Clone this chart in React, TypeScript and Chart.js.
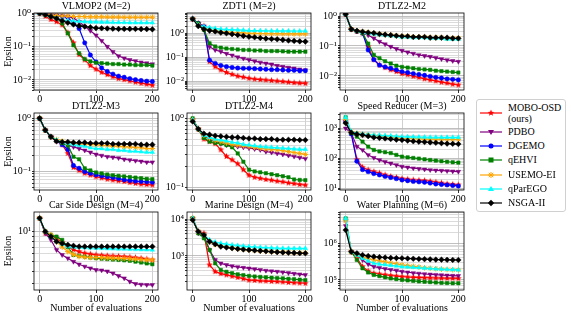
import React, { useEffect, useRef } from 'react';
import { Chart, registerables } from 'chart.js';
Chart.register(...registerables);

const FONT = "'Liberation Serif', 'Times New Roman', 'DejaVu Serif', serif";

const EVALS = [0, 10, 20, 30, 40, 50, 60, 70, 80, 90, 100, 110, 120, 130, 140, 150, 160, 170, 180, 190, 200];
const X_TICKS = [0, 100, 200];

const METHODS = ['MOBO-OSD (ours)', 'PDBO', 'DGEMO', 'qEHVI', 'USEMO-EI', 'qParEGO', 'NSGA-II'];
const COLORS = ['#ff0000', '#800080', '#0000ff', '#008000', '#ffa500', '#00ffff', '#000000'];

// VLMOP2 (M=2)
const V_MOBO = [1.0, 0.82, 0.65, 0.56, 0.45, 0.26, 0.13, 0.058, 0.04, 0.027, 0.021, 0.017, 0.0145, 0.0125, 0.011, 0.0102, 0.0094, 0.0086, 0.008, 0.0075, 0.007];
const V_PDBO = [1.0, 0.95, 0.9, 0.86, 0.83, 0.8, 0.72, 0.56, 0.4, 0.3, 0.22, 0.15, 0.1, 0.07, 0.052, 0.045, 0.04, 0.037, 0.034, 0.032, 0.03];
const V_DGEMO = [1.0, 0.92, 0.86, 0.83, 0.8, 0.76, 0.5, 0.35, 0.13, 0.056, 0.035, 0.023, 0.018, 0.015, 0.013, 0.012, 0.011, 0.0102, 0.0096, 0.0092, 0.009];
const V_QEHVI = [1.0, 0.9, 0.8, 0.74, 0.5, 0.25, 0.11, 0.063, 0.042, 0.036, 0.033, 0.032, 0.031, 0.03, 0.03, 0.029, 0.029, 0.028, 0.028, 0.028, 0.027];
const V_USEMO = [1.0, 0.92, 0.88, 0.85, 0.83, 0.82, 0.8, 0.8, 0.79, 0.78, 0.78, 0.78, 0.77, 0.77, 0.77, 0.76, 0.76, 0.76, 0.76, 0.76, 0.76];
const V_PAREGO = [1.0, 0.9, 0.8, 0.7, 0.63, 0.6, 0.58, 0.57, 0.56, 0.55, 0.55, 0.54, 0.54, 0.53, 0.53, 0.53, 0.52, 0.52, 0.52, 0.52, 0.52];
const V_NSGA = [1.0, 0.9, 0.8, 0.7, 0.6, 0.52, 0.46, 0.42, 0.4, 0.38, 0.36, 0.355, 0.35, 0.345, 0.34, 0.34, 0.34, 0.34, 0.335, 0.335, 0.33];

// ZDT1 (M=2)
const Z_MOBO = [4.0, 2.6, 2.0, 0.065, 0.04, 0.029, 0.023, 0.019, 0.016, 0.0145, 0.013, 0.012, 0.0115, 0.011, 0.0105, 0.01, 0.0095, 0.009, 0.0085, 0.0082, 0.008];
const Z_PDBO = [4.0, 2.6, 1.4, 0.27, 0.2, 0.17, 0.14, 0.12, 0.1, 0.088, 0.077, 0.068, 0.06, 0.055, 0.05, 0.044, 0.04, 0.037, 0.034, 0.031, 0.029];
const Z_DGEMO = [4.0, 2.6, 1.9, 0.075, 0.055, 0.045, 0.04, 0.037, 0.035, 0.034, 0.034, 0.033, 0.032, 0.031, 0.03, 0.03, 0.029, 0.028, 0.028, 0.027, 0.027];
const Z_QEHVI = [4.0, 2.6, 1.4, 0.38, 0.28, 0.25, 0.23, 0.22, 0.21, 0.2, 0.2, 0.19, 0.19, 0.18, 0.18, 0.18, 0.175, 0.17, 0.17, 0.17, 0.17];
const Z_USEMO = [4.0, 2.2, 1.6, 1.4, 1.3, 1.2, 1.15, 1.1, 1.07, 1.04, 1.0, 0.99, 0.98, 0.97, 0.96, 0.96, 0.95, 0.95, 0.94, 0.94, 0.94];
const Z_PAREGO = [4.0, 2.2, 1.9, 1.75, 1.6, 1.5, 1.45, 1.42, 1.38, 1.35, 1.3, 1.3, 1.29, 1.28, 1.27, 1.27, 1.26, 1.26, 1.25, 1.25, 1.25];
const Z_NSGA = [4.0, 2.0, 1.5, 1.3, 1.2, 1.07, 1.0, 0.92, 0.85, 0.78, 0.72, 0.68, 0.64, 0.6, 0.58, 0.56, 0.53, 0.5, 0.48, 0.46, 0.45];

// DTLZ2-M2
const D2_MOBO = [1.15, 0.36, 0.31, 0.27, 0.095, 0.035, 0.023, 0.019, 0.016, 0.014, 0.012, 0.011, 0.0098, 0.009, 0.008, 0.0074, 0.0068, 0.0062, 0.0058, 0.0053, 0.005];
const D2_PDBO = [1.15, 0.36, 0.31, 0.27, 0.23, 0.18, 0.14, 0.115, 0.095, 0.08, 0.07, 0.062, 0.056, 0.05, 0.047, 0.044, 0.04, 0.037, 0.034, 0.032, 0.03];
const D2_DGEMO = [1.15, 0.36, 0.31, 0.27, 0.074, 0.035, 0.023, 0.02, 0.018, 0.016, 0.014, 0.013, 0.012, 0.0112, 0.0105, 0.0097, 0.009, 0.0085, 0.008, 0.0077, 0.0074];
const D2_QEHVI = [1.15, 0.36, 0.31, 0.27, 0.12, 0.05, 0.039, 0.031, 0.026, 0.022, 0.02, 0.019, 0.018, 0.017, 0.0165, 0.016, 0.015, 0.0145, 0.014, 0.0135, 0.013];
const D2_USEMO = [1.15, 0.36, 0.32, 0.3, 0.28, 0.26, 0.25, 0.24, 0.23, 0.22, 0.21, 0.21, 0.2, 0.2, 0.2, 0.19, 0.19, 0.19, 0.18, 0.18, 0.18];
const D2_PAREGO = [1.15, 0.36, 0.32, 0.29, 0.27, 0.25, 0.24, 0.23, 0.22, 0.21, 0.2, 0.2, 0.19, 0.19, 0.19, 0.18, 0.18, 0.18, 0.17, 0.17, 0.17];
const D2_NSGA = [1.15, 0.36, 0.32, 0.3, 0.28, 0.27, 0.25, 0.24, 0.23, 0.22, 0.21, 0.21, 0.2, 0.2, 0.2, 0.19, 0.19, 0.19, 0.19, 0.18, 0.18];

// DTLZ2-M3
const D3_MOBO = [1.0, 0.6, 0.45, 0.38, 0.32, 0.22, 0.12, 0.105, 0.093, 0.086, 0.08, 0.076, 0.072, 0.069, 0.067, 0.065, 0.062, 0.06, 0.058, 0.057, 0.056];
const D3_PDBO = [1.0, 0.6, 0.45, 0.38, 0.34, 0.31, 0.29, 0.27, 0.25, 0.23, 0.21, 0.2, 0.19, 0.185, 0.18, 0.17, 0.165, 0.16, 0.155, 0.15, 0.15];
const D3_DGEMO = [1.0, 0.6, 0.45, 0.38, 0.32, 0.26, 0.13, 0.115, 0.1, 0.093, 0.087, 0.083, 0.08, 0.077, 0.074, 0.07, 0.068, 0.066, 0.065, 0.064, 0.063];
const D3_QEHVI = [1.0, 0.6, 0.45, 0.38, 0.34, 0.31, 0.19, 0.17, 0.115, 0.105, 0.096, 0.092, 0.088, 0.085, 0.083, 0.081, 0.079, 0.077, 0.075, 0.073, 0.072];
const D3_USEMO = [1.0, 0.6, 0.45, 0.4, 0.37, 0.35, 0.34, 0.33, 0.33, 0.32, 0.32, 0.31, 0.31, 0.3, 0.3, 0.29, 0.29, 0.28, 0.28, 0.27, 0.27];
const D3_PAREGO = [1.0, 0.6, 0.45, 0.39, 0.36, 0.34, 0.32, 0.31, 0.3, 0.28, 0.27, 0.27, 0.26, 0.26, 0.25, 0.25, 0.24, 0.24, 0.235, 0.23, 0.23];
const D3_NSGA = [1.0, 0.6, 0.45, 0.37, 0.36, 0.36, 0.35, 0.35, 0.35, 0.34, 0.34, 0.34, 0.34, 0.33, 0.33, 0.33, 0.33, 0.33, 0.32, 0.32, 0.32];

// DTLZ2-M4 (no DGEMO)
const D4_MOBO = [0.95, 0.7, 0.5, 0.46, 0.43, 0.35, 0.28, 0.25, 0.22, 0.18, 0.15, 0.14, 0.135, 0.13, 0.127, 0.123, 0.12, 0.116, 0.113, 0.11, 0.108];
const D4_PDBO = [0.95, 0.7, 0.56, 0.5, 0.46, 0.43, 0.41, 0.4, 0.39, 0.38, 0.37, 0.36, 0.35, 0.33, 0.32, 0.31, 0.3, 0.29, 0.28, 0.27, 0.26];
const D4_QEHVI = [1.0, 0.7, 0.52, 0.46, 0.44, 0.43, 0.41, 0.38, 0.31, 0.235, 0.18, 0.17, 0.165, 0.16, 0.155, 0.15, 0.145, 0.14, 0.13, 0.128, 0.127];
const D4_USEMO = [0.95, 0.7, 0.57, 0.52, 0.48, 0.46, 0.44, 0.42, 0.41, 0.4, 0.39, 0.38, 0.37, 0.36, 0.355, 0.35, 0.34, 0.33, 0.32, 0.31, 0.3];
const D4_PAREGO = [0.95, 0.7, 0.57, 0.53, 0.5, 0.485, 0.47, 0.45, 0.44, 0.42, 0.41, 0.4, 0.39, 0.385, 0.38, 0.375, 0.37, 0.365, 0.36, 0.355, 0.355];
const D4_NSGA = [0.9, 0.7, 0.6, 0.58, 0.56, 0.55, 0.54, 0.53, 0.53, 0.52, 0.51, 0.51, 0.5, 0.5, 0.5, 0.49, 0.49, 0.49, 0.49, 0.485, 0.485];

// Speed Reducer (M=3)
const S_MOBO = [1670, 700, 90, 50, 41, 36, 32, 28, 25, 23, 21, 20, 19, 18.5, 18, 17, 16, 15, 14, 13.5, 13];
const S_PDBO = [1000, 700, 245, 190, 130, 105, 88, 76, 68, 60, 53, 50, 47, 45, 43, 41, 40, 39, 38, 37, 36];
const S_DGEMO = [1670, 650, 80, 42, 36, 31, 28, 25, 23, 21, 19, 18, 17, 16.5, 16, 15, 14, 13.5, 13, 12.5, 12];
const S_QEHVI = [2330, 700, 530, 360, 245, 190, 170, 160, 150, 130, 114, 108, 103, 98, 93, 88, 84, 80, 77, 74, 72];
const S_USEMO = [2000, 775, 680, 630, 600, 570, 550, 530, 510, 490, 460, 455, 450, 445, 440, 440, 435, 435, 430, 430, 430];
const S_PAREGO = [2330, 775, 680, 640, 620, 600, 590, 575, 560, 545, 530, 525, 520, 515, 510, 505, 505, 500, 500, 500, 500];
const S_NSGA = [1500, 720, 640, 600, 550, 500, 480, 460, 440, 420, 410, 390, 370, 360, 350, 340, 330, 320, 310, 305, 300];

// Car Side Design (M=4)
const C_MOBO = [13.6, 9.6, 9.0, 8.6, 7.8, 7.08, 6.6, 6.3, 6.07, 5.95, 5.84, 5.78, 5.72, 5.68, 5.65, 5.62, 5.55, 5.48, 5.4, 5.3, 5.2];
const C_PDBO = [13.6, 9.6, 8.25, 6.55, 5.84, 5.41, 5.0, 4.7, 4.47, 4.3, 4.14, 4.1, 4.0, 3.83, 3.6, 3.41, 3.16, 3.0, 2.95, 2.93, 2.93];
const C_QEHVI = [13.6, 10, 9.3, 8.9, 8.25, 7.0, 5.84, 5.7, 5.6, 5.5, 5.41, 5.35, 5.3, 5.25, 5.2, 5.15, 5.1, 5.0, 4.9, 4.8, 4.71];
const C_USEMO = [13.6, 10, 9.26, 7.94, 7.0, 6.3, 5.9, 5.62, 5.55, 5.5, 5.5, 5.48, 5.45, 5.42, 5.4, 5.38, 5.35, 5.3, 5.25, 5.2, 5.2];
const C_PAREGO = [13.6, 10, 8.9, 7.94, 7.5, 7.08, 7.0, 6.95, 6.9, 6.85, 6.81, 6.78, 6.75, 6.72, 6.7, 6.68, 6.65, 6.62, 6.6, 6.57, 6.55];
const C_NSGA = [13.6, 10, 8.9, 7.94, 7.6, 7.36, 7.2, 7.08, 7.08, 7.08, 7.08, 7.08, 7.08, 7.08, 7.08, 7.08, 7.08, 7.08, 7.08, 7.08, 7.08];

// Marine Design (M=4)
const M_MOBO = [10650, 4610, 4150, 570, 375, 330, 305, 280, 260, 240, 220, 215, 210, 207, 203, 200, 195, 190, 186, 183, 180];
const M_PDBO = [10650, 4150, 3740, 1460, 780, 630, 570, 530, 500, 480, 460, 440, 420, 400, 385, 375, 360, 345, 330, 318, 305];
const M_QEHVI = [10650, 4150, 3030, 1460, 630, 415, 370, 340, 315, 300, 285, 275, 268, 262, 255, 250, 245, 238, 232, 226, 220];
const M_USEMO = [10650, 4610, 3740, 2460, 2050, 1880, 1760, 1660, 1580, 1520, 1460, 1420, 1380, 1350, 1320, 1290, 1270, 1250, 1240, 1230, 1230];
const M_PAREGO = [10650, 4610, 3740, 2730, 2400, 2220, 2100, 2000, 1930, 1860, 1800, 1760, 1720, 1690, 1660, 1640, 1620, 1610, 1600, 1600, 1600];
const M_NSGA = [9590, 4610, 3740, 2460, 2100, 1800, 1700, 1620, 1560, 1500, 1460, 1420, 1380, 1340, 1300, 1270, 1250, 1230, 1210, 1190, 1180];

// Water Planning (M=6)
const W_MOBO = [4.33e6, 5.9e5, 3.9e5, 2.31e5, 1.75e5, 1.52e5, 1.45e5, 1.38e5, 1.32e5, 1.27e5, 1.23e5, 1.2e5, 1.18e5, 1.16e5, 1.15e5, 1.14e5, 1.13e5, 1.12e5, 1.11e5, 1.11e5, 1.1e5];
const W_PDBO = [3.0e6, 5.9e5, 4.81e5, 3.5e5, 2.7e5, 2.31e5, 2.15e5, 2.0e5, 1.9e5, 1.8e5, 1.69e5, 1.62e5, 1.55e5, 1.5e5, 1.45e5, 1.42e5, 1.39e5, 1.36e5, 1.33e5, 1.31e5, 1.29e5];
const W_QEHVI = [4.8e6, 5.9e5, 3.51e5, 2.08e5, 1.6e5, 1.37e5, 1.27e5, 1.18e5, 1.1e5, 1.05e5, 1.0e5, 9.7e4, 9.4e4, 9.1e4, 8.9e4, 8.7e4, 8.5e4, 8.3e4, 8.2e4, 8.1e4, 8.1e4];
const W_USEMO = [4.3e6, 5.9e5, 4.81e5, 4.2e5, 3.8e5, 3.51e5, 3.3e5, 3.1e5, 2.9e5, 2.75e5, 2.57e5, 2.45e5, 2.35e5, 2.25e5, 2.15e5, 2.08e5, 2.02e5, 1.97e5, 1.93e5, 1.9e5, 1.88e5];
const W_PAREGO = [4.8e6, 5.9e5, 4.81e5, 3.9e5, 3.3e5, 2.85e5, 2.7e5, 2.6e5, 2.5e5, 2.4e5, 2.31e5, 2.25e5, 2.2e5, 2.15e5, 2.1e5, 2.05e5, 2.0e5, 1.97e5, 1.93e5, 1.9e5, 1.88e5];
const W_NSGA = [2.31e6, 5.9e5, 5.34e5, 4.8e5, 4.5e5, 4.33e5, 4.2e5, 4.1e5, 4.0e5, 3.95e5, 3.9e5, 3.85e5, 3.8e5, 3.75e5, 3.7e5, 3.65e5, 3.6e5, 3.58e5, 3.55e5, 3.52e5, 3.51e5];

// Panel titles and y-axis ranges
const TITLES = ['VLMOP2 (M=2)', 'ZDT1 (M=2)', 'DTLZ2-M2', 'DTLZ2-M3', 'DTLZ2-M4', 'Speed Reducer (M=3)', 'Car Side Design (M=4)', 'Marine Design (M=4)', 'Water Planning (M=6)'];
const Y_MIN = [0.005, 0.0042, 0.0034, 0.045, 0.0915, 8.8, 2.6, 118, 53000];
const Y_MAX = [1.02, 7.1, 1.26, 1.26, 1.195, 3250, 15.7, 15800, 7.2e6];

const PANEL_SERIES = [
  [V_MOBO, V_PDBO, V_DGEMO, V_QEHVI, V_USEMO, V_PAREGO, V_NSGA],
  [Z_MOBO, Z_PDBO, Z_DGEMO, Z_QEHVI, Z_USEMO, Z_PAREGO, Z_NSGA],
  [D2_MOBO, D2_PDBO, D2_DGEMO, D2_QEHVI, D2_USEMO, D2_PAREGO, D2_NSGA],
  [D3_MOBO, D3_PDBO, D3_DGEMO, D3_QEHVI, D3_USEMO, D3_PAREGO, D3_NSGA],
  [D4_MOBO, D4_PDBO, null, D4_QEHVI, D4_USEMO, D4_PAREGO, D4_NSGA],
  [S_MOBO, S_PDBO, S_DGEMO, S_QEHVI, S_USEMO, S_PAREGO, S_NSGA],
  [C_MOBO, C_PDBO, null, C_QEHVI, C_USEMO, C_PAREGO, C_NSGA],
  [M_MOBO, M_PDBO, null, M_QEHVI, M_USEMO, M_PAREGO, M_NSGA],
  [W_MOBO, W_PDBO, null, W_QEHVI, W_USEMO, W_PAREGO, W_NSGA],
];

// layout
const COL_LEFT = [34, 187, 340];
const ROW_TOP = [13, 113, 212];
const PLOT_W = 124;
const PLOT_H = [77, 77, 78];
const YW = 34;
const TH = 13;
const RP = 12;

const SUP: Record<string, string> = { '0': '⁰', '1': '¹', '2': '²', '3': '³', '4': '⁴', '5': '⁵', '6': '⁶', '7': '⁷', '8': '⁸', '9': '⁹', '-': '⁻' };
function isDecade(v: number) {
  const l = Math.log10(v);
  return Math.abs(l - Math.round(l)) < 1e-6;
}
function decadeLabel(v: number) {
  const e = Math.round(Math.log10(v));
  return '10' + String(e).split('').map((c) => SUP[c] || c).join('');
}

function makeStar(color: string, r: number) {
  const size = Math.ceil(r * 2 + 2);
  const c = document.createElement('canvas');
  c.width = size;
  c.height = size;
  const g = c.getContext('2d')!;
  g.fillStyle = color;
  g.beginPath();
  for (let i = 0; i < 10; i++) {
    const ang = -Math.PI / 2 + (i * Math.PI) / 5;
    const rr = i % 2 === 0 ? r : r * 0.45;
    const px = size / 2 + rr * Math.cos(ang);
    const py = size / 2 + rr * Math.sin(ang);
    if (i === 0) g.moveTo(px, py);
    else g.lineTo(px, py);
  }
  g.closePath();
  g.fill();
  return c;
}

const framePlugin = {
  id: 'frame',
  afterDatasetsDraw(chart: any) {
    const { ctx, chartArea: a } = chart;
    ctx.save();
    ctx.strokeStyle = '#000';
    ctx.lineWidth = 0.8;
    ctx.strokeRect(a.left, a.top, a.right - a.left, a.bottom - a.top);
    ctx.restore();
  },
};

function pointCfg(i: number, star: any) {
  switch (i) {
    case 0: return { pointStyle: star, pointRadius: 3, pointRotation: 0 };
    case 1: return { pointStyle: 'triangle', pointRadius: 2.6, pointRotation: 180 };
    case 2: return { pointStyle: 'circle', pointRadius: 2.2, pointRotation: 0 };
    case 3: return { pointStyle: 'rect', pointRadius: 2.4, pointRotation: 0 };
    case 4: return { pointStyle: 'star', pointRadius: 2.8, pointRotation: 0 };
    case 5: return { pointStyle: 'triangle', pointRadius: 2.6, pointRotation: 0 };
    default: return { pointStyle: 'rectRot', pointRadius: 2.8, pointRotation: 0 };
  }
}

function Panel({ idx }: { idx: number }) {
  const ref = useRef<HTMLCanvasElement>(null);
  const row = Math.floor(idx / 3);
  const col = idx % 3;
  const XH = row === 2 ? 24 : 12;
  const W = YW + PLOT_W + RP;
  const H = TH + PLOT_H[row] + XH;
  const left = COL_LEFT[col] - YW;
  const top = ROW_TOP[row] - TH;

  useEffect(() => {
    const star = makeStar(COLORS[0], 3.4);
    const yMin = Y_MIN[idx];
    const yMax = Y_MAX[idx];
    const datasets: any[] = [];
    PANEL_SERIES[idx].forEach((arr, i) => {
      if (!arr) return;
      datasets.push({
        label: METHODS[i],
        data: EVALS.map((x, k) => ({ x, y: arr[k] })),
        borderColor: COLORS[i],
        backgroundColor: COLORS[i],
        pointBackgroundColor: COLORS[i],
        pointBorderColor: COLORS[i],
        pointBorderWidth: i === 4 ? 1 : 0.5,
        borderWidth: 1.2,
        tension: 0,
        order: 7 - i,
        ...pointCfg(i, star),
      });
    });
    const chart = new Chart(ref.current!, {
      type: 'line',
      data: { datasets },
      options: {
        animation: false,
        responsive: false,
        maintainAspectRatio: false,
        devicePixelRatio: 1,
        layout: { padding: { left: 0, right: RP, top: 0, bottom: 0 } },
        plugins: {
          legend: { display: false },
          tooltip: { enabled: false },
          title: {
            display: true,
            text: TITLES[idx],
            fullSize: false,
            color: '#000',
            font: { family: FONT, size: 10, weight: 'normal' },
            padding: { top: 0, bottom: 1 },
          },
        },
        scales: {
          x: {
            type: 'linear',
            min: -10,
            max: 210,
            afterBuildTicks: (s: any) => {
              s.ticks = X_TICKS.map((v) => ({ value: v }));
            },
            afterFit: (s: any) => {
              s.height = XH;
            },
            ticks: { color: '#000', font: { family: FONT, size: 10 }, padding: 0, maxRotation: 0, autoSkip: false },
            grid: { color: '#c4c4c4', lineWidth: 0.8, drawTicks: true, tickLength: 3, tickColor: '#000' },
            border: { display: false },
            title: {
              display: row === 2,
              text: 'Number of evaluations',
              color: '#000',
              font: { family: FONT, size: 10 },
              padding: { top: 0, bottom: 0 },
            },
          },
          y: {
            type: 'logarithmic',
            min: yMin,
            max: yMax,
            afterBuildTicks: (s: any) => {
              const t: any[] = [];
              const lo = Math.floor(Math.log10(yMin));
              const hi = Math.ceil(Math.log10(yMax));
              for (let e = lo; e <= hi; e++) {
                for (let m = 1; m <= 9; m++) {
                  const v = m * Math.pow(10, e);
                  if (v >= yMin && v <= yMax) t.push({ value: v });
                }
              }
              s.ticks = t;
            },
            afterFit: (s: any) => {
              s.width = YW;
            },
            ticks: {
              color: '#000',
              font: { family: FONT, size: 10 },
              padding: 1,
              autoSkip: false,
              callback: (v: any) => (isDecade(Number(v)) ? decadeLabel(Number(v)) : ''),
            },
            grid: {
              color: (ctx: any) => (ctx.tick && isDecade(ctx.tick.value) ? '#b0b0b0' : '#d2d2d2'),
              lineWidth: 0.8,
              drawTicks: true,
              tickLength: 2,
              tickColor: '#000',
            },
            border: { display: false },
            title: {
              display: col === 0,
              text: 'Epsilon',
              color: '#000',
              font: { family: FONT, size: 10 },
              padding: { top: 2, bottom: 0 },
            },
          },
        },
      },
      plugins: [framePlugin],
    } as any);
    return () => chart.destroy();
  }, []);

  return (
    <canvas
      ref={ref}
      width={W}
      height={H}
      style={{ position: 'absolute', left, top, width: W, height: H }}
    />
  );
}

function LegendMarker({ i }: { i: number }) {
  const c = COLORS[i];
  const cx = 11;
  const cy = 5;
  let marker: any = null;
  if (i === 0) {
    const pts: string[] = [];
    for (let k = 0; k < 10; k++) {
      const ang = -Math.PI / 2 + (k * Math.PI) / 5;
      const rr = k % 2 === 0 ? 3.4 : 1.5;
      pts.push(`${cx + rr * Math.cos(ang)},${cy + rr * Math.sin(ang)}`);
    }
    marker = <polygon points={pts.join(' ')} fill={c} />;
  } else if (i === 1) {
    marker = <polygon points={`${cx - 3},${cy - 2} ${cx + 3},${cy - 2} ${cx},${cy + 3}`} fill={c} />;
  } else if (i === 2) {
    marker = <circle cx={cx} cy={cy} r={2.5} fill={c} />;
  } else if (i === 3) {
    marker = <rect x={cx - 2.5} y={cy - 2.5} width={5} height={5} fill={c} />;
  } else if (i === 4) {
    marker = (
      <g stroke={c} strokeWidth={1}>
        <line x1={cx - 3} y1={cy} x2={cx + 3} y2={cy} />
        <line x1={cx} y1={cy - 3} x2={cx} y2={cy + 3} />
        <line x1={cx - 2.2} y1={cy - 2.2} x2={cx + 2.2} y2={cy + 2.2} />
        <line x1={cx - 2.2} y1={cy + 2.2} x2={cx + 2.2} y2={cy - 2.2} />
      </g>
    );
  } else if (i === 5) {
    marker = <polygon points={`${cx - 3},${cy + 2} ${cx + 3},${cy + 2} ${cx},${cy - 3}`} fill={c} />;
  } else {
    marker = <polygon points={`${cx},${cy - 3.2} ${cx + 3.2},${cy} ${cx},${cy + 3.2} ${cx - 3.2},${cy}`} fill={c} />;
  }
  return (
    <svg width={22} height={10} style={{ position: 'absolute', left: 3, top: -5 }}>
      <line x1={0} y1={cy} x2={22} y2={cy} stroke={c} strokeWidth={1.2} />
      {marker}
    </svg>
  );
}

const LEGEND_CY = [113, 131.7, 146, 160.3, 174.6, 189, 203.3];

function Legend() {
  const boxTop = 99;
  return (
    <div
      style={{
        position: 'absolute',
        left: 476,
        top: boxTop,
        width: 90,
        height: 113,
        border: '1px solid #d0d0d0',
        borderRadius: 3,
        boxSizing: 'border-box',
        background: '#fff',
        fontFamily: FONT,
        fontSize: 10,
        color: '#000',
      }}
    >
      {METHODS.map((m, i) => {
        const cy = LEGEND_CY[i] - boxTop - 1;
        const lines = i === 0 ? ['MOBO-OSD', '(ours)'] : [m];
        return (
          <div key={m} style={{ position: 'absolute', left: 0, top: cy, width: 88, height: 0 }}>
            <LegendMarker i={i} />
            <div
              style={{
                position: 'absolute',
                left: 31,
                top: i === 0 ? -11.5 : -6,
                lineHeight: i === 0 ? '11.5px' : '12px',
                whiteSpace: 'nowrap',
              }}
            >
              {lines.map((l) => (
                <div key={l}>{l}</div>
              ))}
            </div>
          </div>
        );
      })}
    </div>
  );
}

export default function App() {
  return (
    <div style={{ position: 'fixed', left: 0, top: 0, width: 571, height: 312, background: '#fff', overflow: 'hidden' }}>
      {TITLES.map((t, i) => (
        <Panel key={t} idx={i} />
      ))}
      <Legend />
    </div>
  );
}
